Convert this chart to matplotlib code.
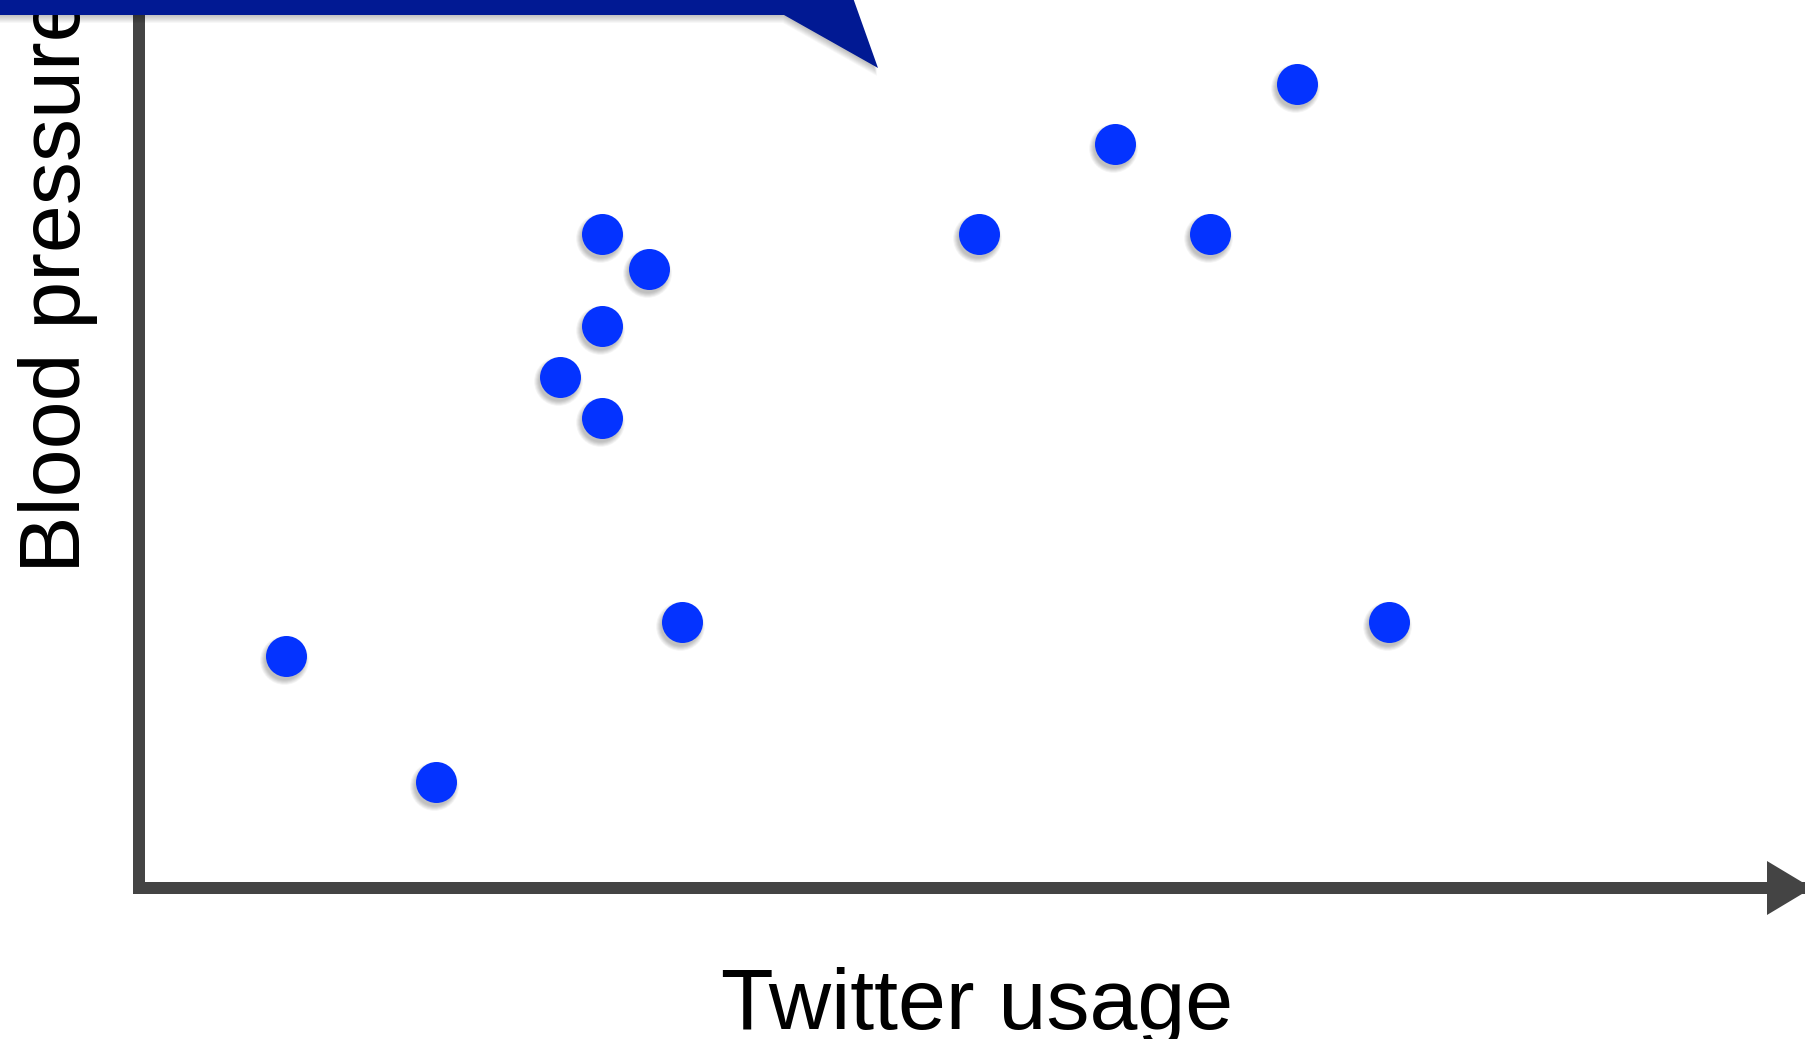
import matplotlib
matplotlib.use("Agg")
import matplotlib.pyplot as plt
from matplotlib.patches import Polygon
from matplotlib.transforms import ScaledTranslation

# ---- data (arbitrary units, axes 0..10) ----
twitter_usage = [0.88, 1.78, 2.53, 2.78, 3.06, 2.78, 2.78, 3.26, 5.04, 5.86, 6.43, 6.95, 7.50]
blood_pressure = [2.61, 1.19, 5.76, 7.37, 6.97, 6.33, 5.29, 3.00, 7.37, 8.38, 7.37, 9.05, 3.00]
x_label = "Twitter usage"
y_label = "Blood pressure"

W, H = 1805, 1039
DPI = 100
fig = plt.figure(figsize=(W / DPI, H / DPI), dpi=DPI)
fig.patch.set_facecolor("white")

AX_COLOR = "#444444"
DOT_COLOR = "#0433FF"
NAVY = "#011993"

ax_left_px, ax_bottom_px = 139, H - 888
ax = fig.add_axes([ax_left_px / W, ax_bottom_px / H, (W - ax_left_px) / W, (H - ax_bottom_px) / H])
ax.set_xlim(0, 10)
ax.set_ylim(0, 10)
ax.set_xticks([])
ax.set_yticks([])
for s in ["top", "right"]:
    ax.spines[s].set_visible(False)
for s in ["left", "bottom"]:
    ax.spines[s].set_color(AX_COLOR)
    ax.spines[s].set_linewidth(12 * 72 / DPI)
    ax.spines[s].set_capstyle("projecting")
ax.patch.set_alpha(0)

# marker shadows (soft blur imitation)
diam_px = 41
shadow_tr = ax.transData + ScaledTranslation(-2 / DPI, -4 / DPI, fig.dpi_scale_trans)
for k in range(10, -1, -1):
    d = (diam_px - 2 + k) * 72 / DPI
    ax.scatter(twitter_usage, blood_pressure, s=d ** 2, color="black", alpha=0.025,
               linewidths=0, transform=shadow_tr, zorder=2, clip_on=False)
ax.scatter(twitter_usage, blood_pressure, s=(diam_px * 72 / DPI) ** 2, color=DOT_COLOR,
           linewidths=0, zorder=3, clip_on=False)

# arrowhead at the end of x axis
def fpt(px, py):
    return (px / W, (H - py) / H)

arrow = Polygon([fpt(1767, 861), fpt(1812, 888), fpt(1767, 915)], closed=True,
                transform=fig.transFigure, facecolor=AX_COLOR, edgecolor="none", zorder=5)
fig.patches.append(arrow)

# navy callout banner with shadow
banner_pts = [(-5, -5), (852, -5), (878, 68), (784, 15), (-5, 15)]
for k in range(8, 0, -1):
    sh = Polygon([fpt(x - 1, y + k) for x, y in banner_pts], closed=True,
                 transform=fig.transFigure, facecolor="black", alpha=0.03, edgecolor="none", zorder=6)
    fig.patches.append(sh)
banner = Polygon([fpt(x, y) for x, y in banner_pts], closed=True,
                 transform=fig.transFigure, facecolor=NAVY, edgecolor="none", zorder=7)
fig.patches.append(banner)

FONT = ["Liberation Sans", "DejaVu Sans"]
fig.text(977 / W, (H - 1029) / H, x_label, ha="center", va="baseline",
         fontsize=62, family=FONT, color="black")
fig.text(80 / W, (H - 573) / H, y_label, rotation=90, rotation_mode="anchor",
         ha="left", va="baseline", fontsize=62, family=FONT, color="black")

fig.savefig("out.png", dpi=DPI, facecolor="white")
